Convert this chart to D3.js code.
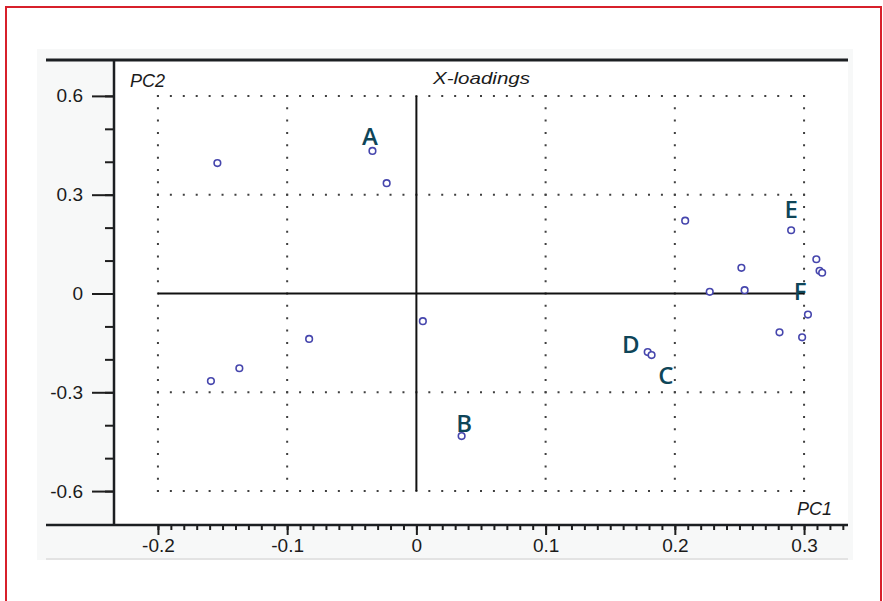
<!DOCTYPE html>
<html>
<head>
<meta charset="utf-8">
<script src="https://cdn.jsdelivr.net/npm/d3@7"></script>
<style>
    html, body { margin: 0; padding: 0; background: #fff; }
    svg { display: block; }
    .tick text { font-family: "Liberation Sans", Arial, sans-serif; font-size: 19px; fill: #1b1b1b; }
    .tick line { stroke: #1e1e1e; stroke-width: 2; }
</style>
</head>
<body>
<svg id="chart" width="883" height="601"></svg>
<script>
// PC1 / PC2 loadings
const pc1 = [-0.154, -0.034, -0.023, -0.159, -0.137, -0.083, 0.005, 0.035, 0.208, 0.290,
             0.3095, 0.312, 0.314, 0.2515, 0.227, 0.254, 0.303, 0.281, 0.2985, 0.179, 0.182];
const pc2 = [0.396, 0.433, 0.335, -0.266, -0.227, -0.138, -0.084, -0.433, 0.221, 0.192,
             0.104, 0.069, 0.063, 0.078, 0.005, 0.010, -0.064, -0.118, -0.133, -0.178, -0.187];

// Letter annotations (name, PC1, PC2 where the letter sits)
const letterNames = ['A', 'B', 'C', 'D', 'E', 'F'];
const letterPC1 = [-0.036, 0.037, 0.193, 0.166, 0.290, 0.297];
const letterPC2 = [0.481, -0.392, -0.245, -0.153, 0.259, 0.008];

// Ticks and grid
const xMajorTicks = [-0.2, -0.1, 0, 0.1, 0.2, 0.3];
const yMajorTicks = [-0.6, -0.3, 0, 0.3, 0.6];
const xGridLines = [-0.2, -0.1, 0.1, 0.2, 0.3];
const yGridLines = [-0.6, -0.3, 0.3, 0.6];

const svg = d3.select('#chart');

// Layout (pixels)
const frame = {left: 114, right: 848, top: 60, bottom: 525, outerLeft: 46};

// Scales - the domain is where the frame edges fall
const x = d3.scaleLinear().domain([-0.234, 0.334]).range([frame.left, frame.right]);
const y = d3.scaleLinear().domain([-0.703, 0.709]).range([frame.bottom, frame.top]);

// Red page border (open at the bottom)
svg.append('path')
    .attr('d', 'M6,601 V7 H881 V601')
    .attr('fill', 'none')
    .attr('stroke', '#d7202b')
    .attr('stroke-width', 2);

// Light grey panel and white plot area
svg.append('rect')
    .attr('x', 37).attr('y', 49).attr('width', 816).attr('height', 511)
    .attr('fill', '#f7f8f8');
svg.append('line')
    .attr('x1', frame.outerLeft).attr('x2', frame.right).attr('y1', 559).attr('y2', 559)
    .attr('stroke', '#dcdcdc').attr('stroke-width', 1.5);
svg.append('rect')
    .attr('x', frame.left).attr('y', frame.top)
    .attr('width', frame.right - frame.left).attr('height', frame.bottom - frame.top)
    .attr('fill', '#fff');

// Dotted grid
const grid = svg.append('g').attr('stroke', '#3f3f3f').attr('stroke-width', 2).attr('fill', 'none');
const hLen = x(0.3) - x(-0.2), vLen = y(-0.6) - y(0.6);
const hStep = hLen / 50, vStep = vLen / 32;

grid.selectAll('line.v').data(xGridLines).join('line')
    .attr('class', 'v')
    .attr('x1', d => x(d)).attr('x2', d => x(d))
    .attr('y1', y(0.6) - 1).attr('y2', y(-0.6) + 1)
    .attr('stroke-dasharray', `2 ${vStep - 2}`);

grid.selectAll('line.h').data(yGridLines).join('line')
    .attr('class', 'h')
    .attr('x1', x(-0.2) - 1).attr('x2', x(0.3) + 1)
    .attr('y1', d => y(d)).attr('y2', d => y(d))
    .attr('stroke-dasharray', `2 ${hStep - 2}`);

// Zero lines
svg.append('line')
    .attr('x1', x(-0.2)).attr('x2', x(0.3)).attr('y1', y(0)).attr('y2', y(0))
    .attr('stroke', '#111').attr('stroke-width', 2);
svg.append('line')
    .attr('x1', x(0)).attr('x2', x(0)).attr('y1', y(0.6)).attr('y2', y(-0.6))
    .attr('stroke', '#111').attr('stroke-width', 2);

// Axes: minor ticks first, then major with labels (plain hyphen for negatives)
const fmt = d => d === 0 ? '0' : d.toFixed(1);

svg.append('g')
    .attr('transform', `translate(${frame.left},0)`)
    .call(d3.axisLeft(y).tickValues(d3.range(-6, 7).map(i => i / 10)).tickSize(9).tickFormat(''))
    .call(g => g.select('.domain').remove());
svg.append('g')
    .attr('transform', `translate(${frame.left},0)`)
    .call(d3.axisLeft(y).tickValues(yMajorTicks).tickSize(22).tickPadding(9).tickFormat(fmt))
    .call(g => g.select('.domain').remove());

svg.append('g')
    .attr('transform', `translate(0,${frame.bottom})`)
    .call(d3.axisBottom(x).tickValues(d3.range(-20, 34).map(i => i / 100)).tickSize(5).tickFormat(''))
    .call(g => g.select('.domain').remove());
svg.append('g')
    .attr('transform', `translate(0,${frame.bottom})`)
    .call(d3.axisBottom(x).tickValues(xMajorTicks).tickSize(10).tickPadding(4).tickFormat(fmt))
    .call(g => g.select('.domain').remove());

// Frame lines (top & bottom run out past the left axis)
const frameG = svg.append('g').attr('stroke', '#1c1f22');
frameG.append('line')
    .attr('x1', frame.outerLeft).attr('x2', frame.right).attr('y1', frame.top).attr('y2', frame.top)
    .attr('stroke-width', 3);
frameG.append('line')
    .attr('x1', frame.outerLeft).attr('x2', frame.right).attr('y1', frame.bottom).attr('y2', frame.bottom)
    .attr('stroke-width', 2.5);
frameG.append('line')
    .attr('x1', frame.left).attr('x2', frame.left).attr('y1', frame.top).attr('y2', frame.bottom)
    .attr('stroke-width', 2.5);

// Axis titles
const titleFont = '"Liberation Sans", Arial, sans-serif';
svg.append('text')
    .attr('x', 130).attr('y', 87)
    .attr('font-family', titleFont).attr('font-style', 'italic').attr('font-size', 18)
    .attr('fill', '#1b1b1b')
    .text('PC2');
svg.append('text')
    .attr('x', 433).attr('y', 84)
    .attr('font-family', titleFont).attr('font-style', 'italic').attr('font-size', 17)
    .attr('textLength', 97).attr('lengthAdjust', 'spacingAndGlyphs')
    .attr('fill', '#1b1b1b')
    .text('X-loadings');
svg.append('text')
    .attr('x', 832).attr('y', 515)
    .attr('text-anchor', 'end')
    .attr('font-family', titleFont).attr('font-style', 'italic').attr('font-size', 18)
    .attr('fill', '#1b1b1b')
    .text('PC1');

// Loadings
svg.append('g').selectAll('circle').data(d3.range(pc1.length)).join('circle')
    .attr('cx', i => x(pc1[i]))
    .attr('cy', i => y(pc2[i]))
    .attr('r', 3.3)
    .attr('fill', '#fff')
    .attr('stroke', '#4646ad')
    .attr('stroke-width', 1.6);

// Letter annotations
svg.append('g').selectAll('text').data(d3.range(letterNames.length)).join('text')
    .attr('x', i => x(letterPC1[i]))
    .attr('y', i => y(letterPC2[i]))
    .attr('text-anchor', 'middle')
    .attr('dominant-baseline', 'central')
    .attr('font-family', '"Open Sans", "Noto Sans", sans-serif')
    .attr('font-weight', 600)
    .attr('font-size', 24)
    .attr('fill', '#0e4558')
    .text(i => letterNames[i]);
</script>
</body>
</html>
